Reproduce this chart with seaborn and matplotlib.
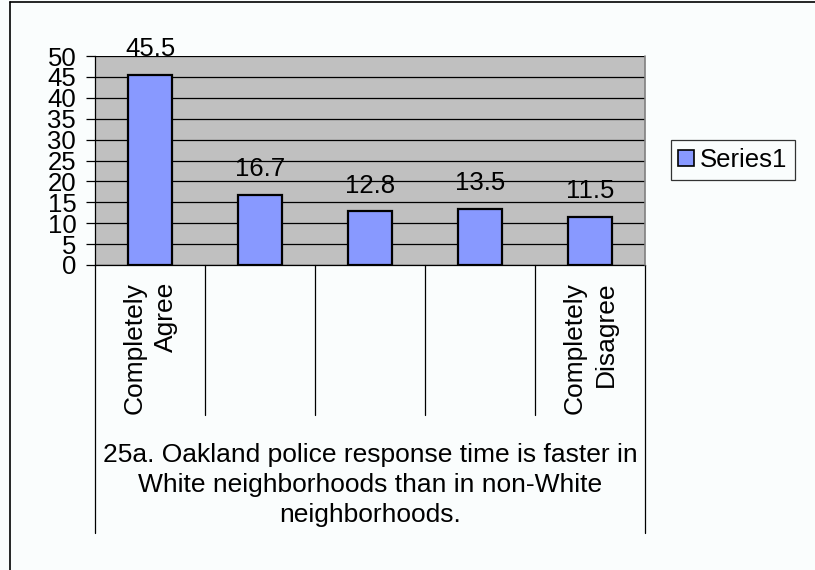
import matplotlib
matplotlib.use("Agg")
import matplotlib.pyplot as plt
import matplotlib.transforms as mtransforms
from matplotlib.patches import Patch
import seaborn as sns
import pandas as pd

categories = ["Completely\nAgree", "", "", "", "Completely\nDisagree"]
values = [45.5, 16.7, 12.8, 13.5, 11.5]
series_name = "Series1"
yticks = list(range(0, 55, 5))
xlabel = ("25a. Oakland police response time is faster in\n"
          "White neighborhoods than in non-White\n"
          "neighborhoods.")

BG = "#FAFDFD"
BAR = "#8899FF"
PLOT_BG = "#C0C0C0"
FS = 18.5

sns.set_theme(style="white")
plt.rcParams["font.family"] = ["Liberation Sans", "DejaVu Sans"]
plt.rcParams["text.color"] = "black"
plt.rcParams["xtick.color"] = "black"
plt.rcParams["ytick.color"] = "black"
plt.rcParams["xtick.labelcolor"] = "black"
plt.rcParams["ytick.labelcolor"] = "black"

fig = plt.figure(figsize=(8.15, 5.70), dpi=100, facecolor=BG)
ax = fig.add_axes([95 / 815, 1 - 265 / 570, 550 / 815, 209 / 570])
ax.set_facecolor(PLOT_BG)

df = pd.DataFrame({"pos": range(len(values)), "value": values})
sns.barplot(data=df, x="pos", y="value", ax=ax, color=BAR, width=0.4,
            edgecolor="black", linewidth=1.6, saturation=1, zorder=3)

ax.set_xlim(-0.5, len(values) - 0.5)
ax.set_ylim(0, 50)
ax.set_yticks(yticks)
ax.set_yticklabels([str(t) for t in yticks], fontsize=FS, color="black")
ax.yaxis.grid(True, color="black", linewidth=0.9, zorder=1)
ax.set_axisbelow(True)
ax.tick_params(axis="y", direction="out", length=6.5, width=0.9,
               color="black", pad=7, left=True)
ax.tick_params(axis="x", length=0, pad=12)
ax.set_xticks(range(len(values)))
ax.set_xticklabels(categories, rotation=90, fontsize=19, va="top", color="black",
                   multialignment="right", linespacing=1.4)
ax.set_xlabel("")
ax.set_ylabel("")

for side in ["top", "right"]:
    ax.spines[side].set_visible(False)
ax.spines["left"].set_color("black")
ax.spines["left"].set_linewidth(0.9)
ax.spines["bottom"].set_color("black")
ax.spines["bottom"].set_linewidth(0.9)
ax.plot([1, 1], [0, 1], transform=ax.transAxes, color="#808080",
        linewidth=1.2, clip_on=False, zorder=4)

# category dividers and outer frame of the category axis
trans = mtransforms.blended_transform_factory(ax.transData, fig.transFigure)
y0 = 1 - 265 / 570
y_inner = 1 - 415 / 570
y_outer = 1 - 533 / 570
for i in range(len(values) + 1):
    x = i - 0.5
    ybot = y_outer if i in (0, len(values)) else y_inner
    ax.plot([x, x], [y0, ybot], transform=trans, color="black",
            linewidth=0.9, clip_on=False)

# value labels
for i, v in enumerate(values):
    ax.annotate(f"{v:.1f}", (i, v), xytext=(0, 13.5), textcoords="offset points",
                ha="center", va="baseline", fontsize=FS, color="black",
                annotation_clip=False)

fig.text(370 / 815, 1 - 485 / 570, xlabel, ha="center", va="center",
         fontsize=19, linespacing=1.33, color="black")

# figure border
fig.add_artist(plt.Line2D([10 / 815, 10 / 815], [0, 1 - 1.5 / 570],
                          transform=fig.transFigure, color="black", linewidth=1.2))
fig.add_artist(plt.Line2D([10 / 815, 1], [1 - 1.5 / 570, 1 - 1.5 / 570],
                          transform=fig.transFigure, color="black", linewidth=1.2))

leg = fig.legend(handles=[Patch(facecolor=BAR, edgecolor="black", linewidth=1.2,
                                label=series_name)],
                 loc="center", bbox_to_anchor=(733 / 815, 1 - 160 / 570),
                 fontsize=FS, frameon=True, fancybox=False, handlelength=0.6,
                 handleheight=0.6, handletextpad=0.25, borderpad=0.3,
                 borderaxespad=0)
leg.get_frame().set_edgecolor("black")
leg.get_frame().set_linewidth(0.9)
leg.get_frame().set_facecolor(BG)

fig.savefig("out.png", dpi=100, facecolor=BG)
